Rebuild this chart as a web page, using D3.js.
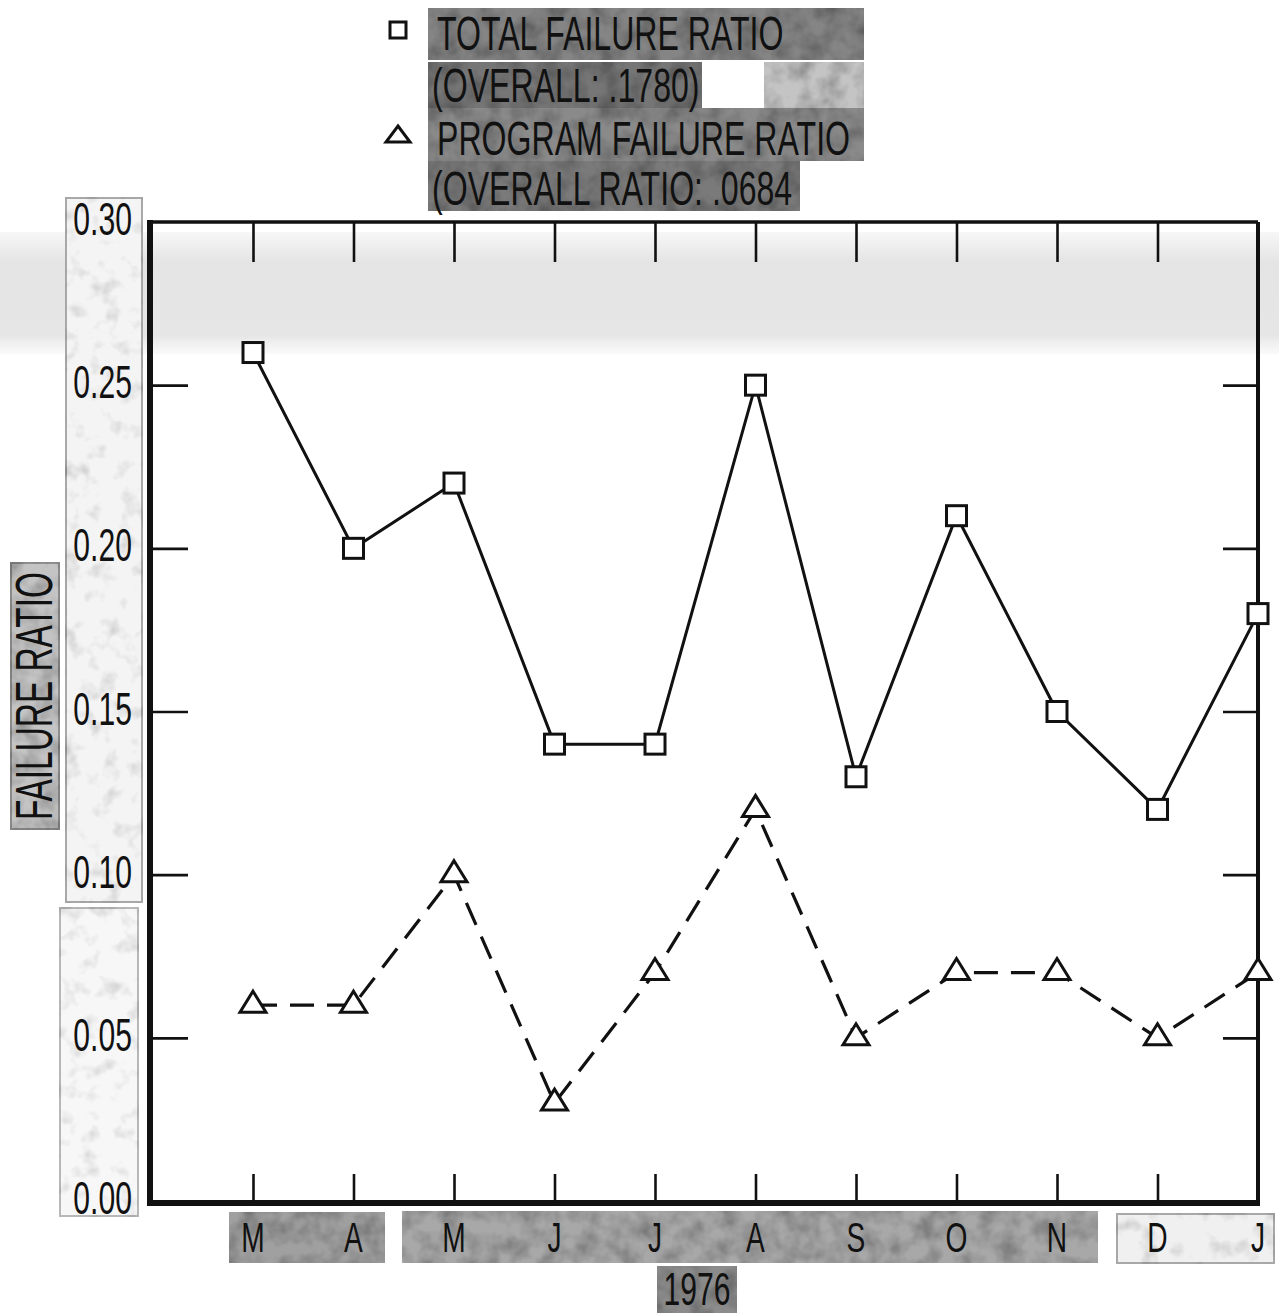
<!DOCTYPE html>
<html><head><meta charset="utf-8">
<script src="https://cdn.jsdelivr.net/npm/d3@7"></script>
<style>html,body{margin:0;padding:0;background:#fff;}svg{display:block;}</style>
</head><body>
<script>
// ---------- data ----------
const months = ["M","A","M","J","J","A","S","O","N","D","J"];
const totalRatio   = [0.26,0.20,0.22,0.14,0.14,0.25,0.13,0.21,0.15,0.12,0.18];
const programRatio = [0.06,0.06,0.10,0.03,0.07,0.12,0.05,0.07,0.07,0.05,0.07];
const yTicks = [0.00,0.05,0.10,0.15,0.20,0.25,0.30];
const yTickLabels = ["0.00","0.05","0.10","0.15","0.20","0.25","0.30"];
const yearLabel = "1976";
const yAxisTitle = "FAILURE RATIO";
const legendLines = ["TOTAL FAILURE RATIO","(OVERALL: .1780)","PROGRAM FAILURE RATIO","(OVERALL RATIO: .0684"];

(function () {
// ---------- setup ----------
const W = 1279, H = 1315;
const FONT = "'Liberation Sans', Arial, sans-serif";
const SX = 0.655; // condensed look
const svg = d3.select("body").append("svg").attr("width", W).attr("height", H);

const x = d3.scaleLinear().domain([0, months.length - 1]).range([253, 1258]);
const y = d3.scaleLinear().domain([0, 0.30]).range([1201, 222]);
const pL = 150, pR = x(months.length - 1), pT = y(0.30), pB = y(0) + 2;

function label(g, tx, ty, text, size, anchor, rot) {
  return g.append("text")
    .attr("transform", `translate(${tx},${ty})` + (rot ? ` rotate(${rot})` : "") + ` scale(${SX},1)`)
    .attr("text-anchor", anchor || "start")
    .attr("font-family", FONT).attr("font-size", size)
    .attr("fill", "#111").text(text);
}

// texture filters for the pasted-on label strips
const defs = svg.append("defs");
function grain(id, gain, bias, freq) {
  const f = defs.append("filter").attr("id", id).attr("x", 0).attr("y", 0).attr("width", 1).attr("height", 1);
  f.append("feTurbulence").attr("type", "fractalNoise").attr("baseFrequency", freq).attr("numOctaves", 3).attr("seed", 7).attr("result", "n");
  f.append("feColorMatrix").attr("in", "n").attr("type", "matrix")
    .attr("values", `0 0 0 0 0  0 0 0 0 0  0 0 0 0 0  0 0 0 ${gain} ${bias}`).attr("result", "a");
  f.append("feComposite").attr("in", "a").attr("in2", "SourceGraphic").attr("operator", "in").attr("result", "m");
  const fm = f.append("feMerge");
  fm.append("feMergeNode").attr("in", "SourceGraphic");
  fm.append("feMergeNode").attr("in", "m");
}
grain("grain", 0.9, -0.3, 0.05);
grain("grainLight", 0.8, -0.42, 0.05);
const band = defs.append("linearGradient").attr("id", "band").attr("x1", 0).attr("x2", 0).attr("y1", 0).attr("y2", 1);
band.append("stop").attr("offset", "0").attr("stop-color", "#e4e4e4").attr("stop-opacity", 0.3);
band.append("stop").attr("offset", "0.25").attr("stop-color", "#e4e4e4").attr("stop-opacity", 1);
band.append("stop").attr("offset", "0.85").attr("stop-color", "#e6e6e6").attr("stop-opacity", 1);
band.append("stop").attr("offset", "1").attr("stop-color", "#eeeeee").attr("stop-opacity", 0.3);

const bg = svg.append("g");
// light scanned band across the top
bg.append("rect").attr("x", 0).attr("y", 232).attr("width", W).attr("height", 122).attr("fill", "url(#band)");

function strip(x0, y0, w, h, fill, stroke, filt) {
  bg.append("rect").attr("x", x0).attr("y", y0).attr("width", w).attr("height", h)
    .attr("fill", fill).attr("stroke", stroke || "none").attr("stroke-width", 4)
    .attr("filter", `url(#${filt || "grain"})`);
}
// legend strips
strip(428, 8, 436, 52, "#858585");
strip(428, 62, 274, 46, "#767676");
strip(764, 62, 100, 46, "#c4c4c4");
strip(428, 108, 436, 53, "#8a8a8a");
strip(428, 161, 372, 50, "#7a7a7a");
// y-axis strips
strip(65, 197, 78, 706, "#f4f4f4", "#a8a8a8", "grainLight");
strip(59, 907, 80, 310, "#f7f7f7", "#b8b8b8", "grainLight");
strip(10, 562, 50, 268, "#c4c4c4", "#8e8e8e");
// month strips
strip(229, 1212, 156, 51, "#a0a0a0");
strip(402, 1211, 696, 52, "#a8a8a8");
strip(1116, 1213, 159, 51, "#f0f0f0", "#a8a8a8", "grainLight");
strip(657, 1266, 80, 47, "#8c8c8c");

// ---------- frame & ticks ----------
const fr = svg.append("g").attr("stroke", "#111").attr("fill", "none");
fr.append("line").attr("x1", pL).attr("x2", pR).attr("y1", pT).attr("y2", pT).attr("stroke-width", 3.5);
fr.append("line").attr("x1", pR).attr("x2", pR).attr("y1", pT).attr("y2", pB).attr("stroke-width", 4);
fr.append("line").attr("x1", pL).attr("x2", pL).attr("y1", pT - 2).attr("y2", pB + 3).attr("stroke-width", 6);
fr.append("line").attr("x1", pL - 3).attr("x2", pR + 2).attr("y1", pB).attr("y2", pB).attr("stroke-width", 6);

const inner = yTicks.filter(v => v > 0 && v < 0.30);
const idx = d3.range(months.length - 1);
function styleAxis(g) {
  g.select(".domain").remove();
  g.selectAll("text").remove();
  g.selectAll("line").attr("stroke", "#111").attr("stroke-width", 2.6);
}
svg.append("g").attr("transform", `translate(${pL},0)`)
  .call(d3.axisRight(y).tickValues(inner).tickSize(38)).call(styleAxis);
svg.append("g").attr("transform", `translate(${pR},0)`)
  .call(d3.axisLeft(y).tickValues(inner).tickSize(35)).call(styleAxis);
svg.append("g").attr("transform", `translate(0,${pT})`)
  .call(d3.axisBottom(x).tickValues(idx).tickSize(40)).call(styleAxis);
svg.append("g").attr("transform", `translate(0,${pB})`)
  .call(d3.axisTop(x).tickValues(idx).tickSize(29)).call(styleAxis);

// ---------- labels ----------
const lab = svg.append("g");
yTicks.forEach((v, i) => label(lab, 132, y(v) + 13, yTickLabels[i], 46, "end"));
months.forEach((m, i) => label(lab, x(i), 1252, m, 43, "middle"));
label(lab, 697, 1305, yearLabel, 46, "middle");
label(lab, 52, 696, yAxisTitle, 51, "middle", -90);

// legend
const lg = svg.append("g");
const legY = [50, 102, 155, 205];
legendLines.forEach((t, i) => label(lg, i % 2 ? 432 : 437, legY[i], t, 49, "start"));
lg.append("rect").attr("x", 390).attr("y", 22).attr("width", 16).attr("height", 16)
  .attr("fill", "#fff").attr("stroke", "#111").attr("stroke-width", 3);
lg.append("path").attr("d", "M398,126 L410,142 L386,142 Z")
  .attr("fill", "#fff").attr("stroke", "#111").attr("stroke-width", 3).attr("stroke-linejoin", "miter");

// ---------- series ----------
const line = d3.line().x((d, i) => x(i)).y(d => y(d));
const plot = svg.append("g");
plot.append("path").datum(totalRatio).attr("d", line)
  .attr("fill", "none").attr("stroke", "#111").attr("stroke-width", 3);
plot.append("path").datum(programRatio).attr("d", line)
  .attr("fill", "none").attr("stroke", "#111").attr("stroke-width", 3.2)
  .attr("stroke-dasharray", "24,13");

plot.selectAll("rect.sq").data(totalRatio).enter().append("rect").attr("class", "sq")
  .attr("x", (d, i) => x(i) - 10).attr("y", d => y(d) - 10)
  .attr("width", 20).attr("height", 20)
  .attr("fill", "#fff").attr("stroke", "#111").attr("stroke-width", 3);

plot.selectAll("path.tri").data(programRatio).enter().append("path").attr("class", "tri")
  .attr("transform", (d, i) => `translate(${x(i)},${y(d)})`)
  .attr("d", "M0,-14 L13,7 L-13,7 Z")
  .attr("fill", "#fff").attr("stroke", "#111").attr("stroke-width", 3);
})();
</script>
</body></html>
